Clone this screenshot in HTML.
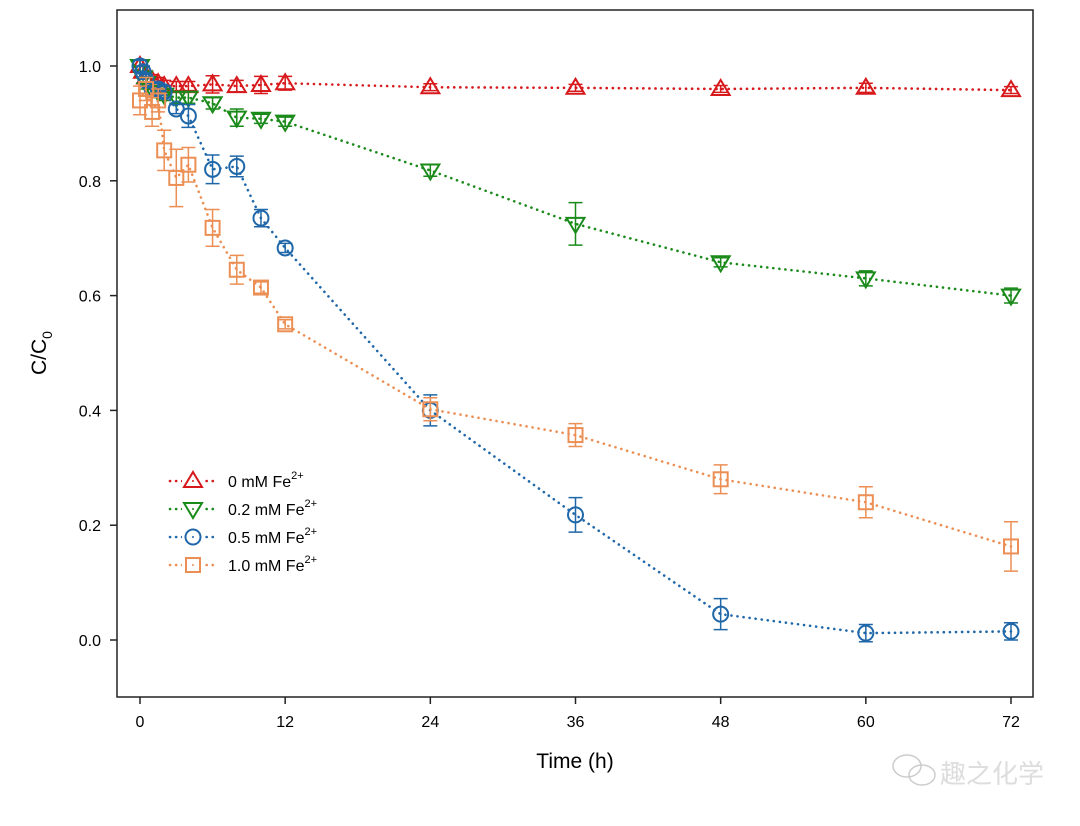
<!DOCTYPE html>
<html><head><meta charset="utf-8"><style>
body{margin:0;background:#fff}
svg text{font-family:"Liberation Sans",Arial,sans-serif}
</style></head><body>
<svg id="chart" width="1080" height="821" xmlns="http://www.w3.org/2000/svg">
<rect x="117" y="10" width="916" height="687" fill="none" stroke="#222" stroke-width="1.5"/>
<g id="axes"></g><g id="series"></g><g id="legend"></g>
<text x="575" y="768" font-size="21" text-anchor="middle">Time (h)</text>
<text transform="translate(46,353) rotate(-90)" font-size="21" text-anchor="middle">C/C<tspan font-size="14" dy="6">0</tspan></text>
<g fill="none" stroke="#ccc" stroke-width="1.5">
<ellipse cx="907" cy="766" rx="14" ry="11"/><ellipse cx="922" cy="775" rx="13" ry="10"/>
</g>
<text x="940" y="783" font-size="26" fill="#ddd" style="font-family:'Liberation Sans','Noto Sans CJK SC',sans-serif">趣之化学</text>
</svg>
<script>
const times=[0,0.25,0.5,1,1.5,2,3,4,6,8,10,12,24,36,48,60,72];
const red=[1.0,0.99,0.98,0.975,0.97,0.965,0.965,0.965,0.968,0.965,0.967,0.97,0.963,0.962,0.96,0.962,0.958];
const redErr=[0.01,0.01,0.01,0.01,0.01,0.01,0.008,0.008,0.015,0.01,0.015,0.012,0.006,0.006,0.006,0.008,0.006];
const green=[1.0,0.98,0.97,0.96,0.955,0.95,0.945,0.945,0.935,0.91,0.908,0.903,0.818,0.725,0.658,0.63,0.6];
const greenErr=[0.01,0.01,0.01,0.01,0.01,0.01,0.01,0.01,0.01,0.015,0.008,0.008,0.01,0.037,0.008,0.013,0.013];
const blue=[1.0,0.99,0.975,0.96,0.96,0.955,0.925,0.913,0.82,0.825,0.735,0.683,0.4,0.218,0.045,0.012,0.015];
const blueErr=[0.01,0.01,0.01,0.01,0.01,0.01,0.008,0.02,0.025,0.018,0.015,0.008,0.027,0.03,0.027,0.015,0.015];
const orangeT=[0,0.5,1,1.5,2,3,4,6,8,10,12,24,36,48,60,72];
const orange=[0.94,0.96,0.92,0.94,0.853,0.805,0.828,0.718,0.645,0.614,0.55,0.402,0.357,0.28,0.24,0.163];
const orangeErr=[0.025,0.02,0.025,0.02,0.035,0.05,0.03,0.032,0.025,0.01,0.008,0.02,0.02,0.025,0.027,0.043];
const xTicks=[0,12,24,36,48,60,72];
const yTicks=[0.0,0.2,0.4,0.6,0.8,1.0];
const legendLabels=["0 mM Fe","0.2 mM Fe","0.5 mM Fe","1.0 mM Fe"];
const NS="http://www.w3.org/2000/svg";
const X=t=>140+t*(1011-140)/72;
const Y=v=>640-v*(640-66);
function mk(tag,at,parent){const e=document.createElementNS(NS,tag);for(const k in at)e.setAttribute(k,at[k]);parent.appendChild(e);return e;}
const axes=document.getElementById('axes');
xTicks.forEach(t=>{
 const l=mk('line',{x1:X(t),x2:X(t),y1:697,y2:704,stroke:'#222','stroke-width':1.5},axes);
 
 
 const tx=mk('text',{x:X(t),y:727,'font-size':16,'text-anchor':'middle'},axes);tx.textContent=t;
 
 
});
yTicks.forEach(v=>{
 const l=mk('line',{x1:110,x2:117,y1:Y(v),y2:Y(v),stroke:'#222','stroke-width':1.5},axes);
 
 
 const tx=mk('text',{x:101,y:Y(v)+6,'font-size':16,'text-anchor':'end'},axes);tx.textContent=v.toFixed(1);
 
 
});
function marker(type,cx,cy,col,g){
 let e;
 if(type==='up')e=mk('polygon',{points:`${cx},${cy-9} ${cx+9},${cy+6} ${cx-9},${cy+6}`},g);
 else if(type==='down')e=mk('polygon',{points:`${cx},${cy+9} ${cx+9},${cy-6} ${cx-9},${cy-6}`},g);
 else if(type==='circle')e=mk('circle',{cx:cx,cy:cy,r:7.5},g);
 else e=mk('rect',{x:cx-7,y:cy-7,width:14,height:14},g);
 e.setAttribute('fill','none');e.setAttribute('stroke',col);e.setAttribute('stroke-width',2);
 mk('circle',{cx:cx,cy:cy,r:1,fill:col},g);
 return e;
}
const series=[
 {n:'red',ts:times,v:red,e:redErr,c:'#d7191c',m:'up'},
 {n:'green',ts:times,v:green,e:greenErr,c:'#1a8a1a',m:'down'},
 {n:'blue',ts:times,v:blue,e:blueErr,c:'#1f67a8',m:'circle'},
 {n:'orange',ts:orangeT,v:orange,e:orangeErr,c:'#ec8f55',m:'square'}];
const sg=document.getElementById('series');
series.forEach(s=>{
 const g=mk('g',{},sg);
 
 
 const pl=mk('polyline',{points:s.ts.map((t,i)=>X(t)+','+Y(s.v[i])).join(' '),fill:'none',stroke:s.c,'stroke-width':2.6,'stroke-dasharray':'0.1 6','stroke-linecap':'round'},g);
 
 
 s.ts.forEach((t,i)=>{
  const x=X(t),y1=Y(s.v[i]+s.e[i]),y2=Y(s.v[i]-s.e[i]);
  const eb=mk('path',{d:`M${x},${y1}V${y2}M${x-7},${y1}H${x+7}M${x-7},${y2}H${x+7}`,stroke:s.c,'stroke-width':1.5,fill:'none'},g);
  
  
  const m=marker(s.m,x,Y(s.v[i]),s.c,g);
  
  
 });
});
const lg=document.getElementById('legend');
series.forEach((s,i)=>{
 const y=481+i*28;
 const g=mk('g',{},lg);
 
 
 mk('line',{x1:170,x2:216,y1:y,y2:y,stroke:s.c,'stroke-width':2.6,'stroke-dasharray':'0.1 6','stroke-linecap':'round'},g);
 mk('rect',{x:182,y:y-10,width:22,height:20,fill:'#fff'},g);
 marker(s.m,193,y,s.c,g);
 const tx=mk('text',{x:228,y:y+6,'font-size':16},g);
 tx.textContent=legendLabels[i];
 const sup=mk('tspan',{'font-size':11,dy:-8},tx);sup.textContent='2+';
});
</script>
</body></html>
